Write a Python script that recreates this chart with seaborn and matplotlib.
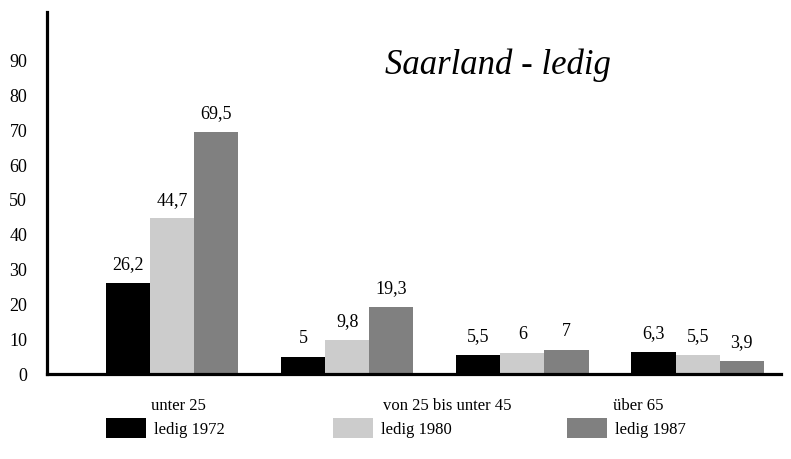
import pandas as pd
import matplotlib
matplotlib.use("Agg")
import matplotlib.pyplot as plt
import seaborn as sns

# data
groups = ["unter 25", "von 25 bis unter 45", "von 45 bis unter 65", "über 65"]
ledig_1972 = [26.2, 5.0, 5.5, 6.3]
ledig_1980 = [44.7, 9.8, 6.0, 5.5]
ledig_1987 = [69.5, 19.3, 7.0, 3.9]
series = ["ledig 1972", "ledig 1980", "ledig 1987"]
colors = ["#000000", "#cccccc", "#808080"]

# tick labels as printed under the axis (the original shows only three)
xtick_labels = ["unter 25", "von 25 bis unter 45", "über 65"]
xtick_pos = [0.04, 1.57, 2.66]
yticks = [0, 10, 20, 30, 40, 50, 60, 70, 80, 90]

df = pd.DataFrame({
    "gruppe": groups * 3,
    "wert": ledig_1972 + ledig_1980 + ledig_1987,
    "serie": [s for s in series for _ in groups],
})

sns.set_style("white")
plt.rcParams["font.family"] = ["Liberation Serif", "DejaVu Serif"]
plt.rcParams["text.color"] = "black"
plt.rcParams["xtick.color"] = "black"
plt.rcParams["ytick.color"] = "black"

fig = plt.figure(figsize=(7.91, 4.59), dpi=100)
ax = fig.add_axes([0.059, 0.185, 0.928, 0.789])

sns.barplot(data=df, x="gruppe", y="wert", hue="serie", order=groups,
            hue_order=series, palette=colors, width=0.755, saturation=1,
            linewidth=0, legend=False, ax=ax)

for cont in ax.containers:
    labels = [f"{b.get_height():g}".replace(".", ",") for b in cont]
    ax.bar_label(cont, labels=labels, padding=7, fontsize=13, color="black")

ax.set_xlim(-0.714, 3.474)
ax.set_ylim(0, 104)
ax.set_yticks(yticks)
ax.set_yticklabels([str(t) for t in yticks], fontsize=13)
ax.set_xticks(xtick_pos)
ax.set_xticklabels(xtick_labels, fontsize=12)
ax.tick_params(axis="y", length=0, pad=14, labelcolor="black")
ax.tick_params(axis="x", length=0, pad=17, labelcolor="black")
ax.set_xlabel("")
ax.set_ylabel("")

for s in ["top", "right"]:
    ax.spines[s].set_visible(False)
for s in ["left", "bottom"]:
    ax.spines[s].set_linewidth(2.3)
    ax.spines[s].set_color("black")

ax.text(0.615, 0.853, "Saarland - ledig", transform=ax.transAxes,
        fontsize=25, style="italic", ha="center", va="center", color="black")

# legend: three single entries, placed like the original
leg_x = [106, 333, 567]
for name, col, x in zip(series, colors, leg_x):
    h = matplotlib.patches.Patch(facecolor=col, edgecolor="none")
    leg = fig.legend([h], [name], loc="center left",
                     bbox_to_anchor=(x / 791, 1 - 428 / 459),
                     frameon=False, fontsize=12, handlelength=2.4,
                     handleheight=1.5, handletextpad=0.5, borderpad=0,
                     borderaxespad=0, labelcolor="black")

fig.savefig("out.png", dpi=100)
